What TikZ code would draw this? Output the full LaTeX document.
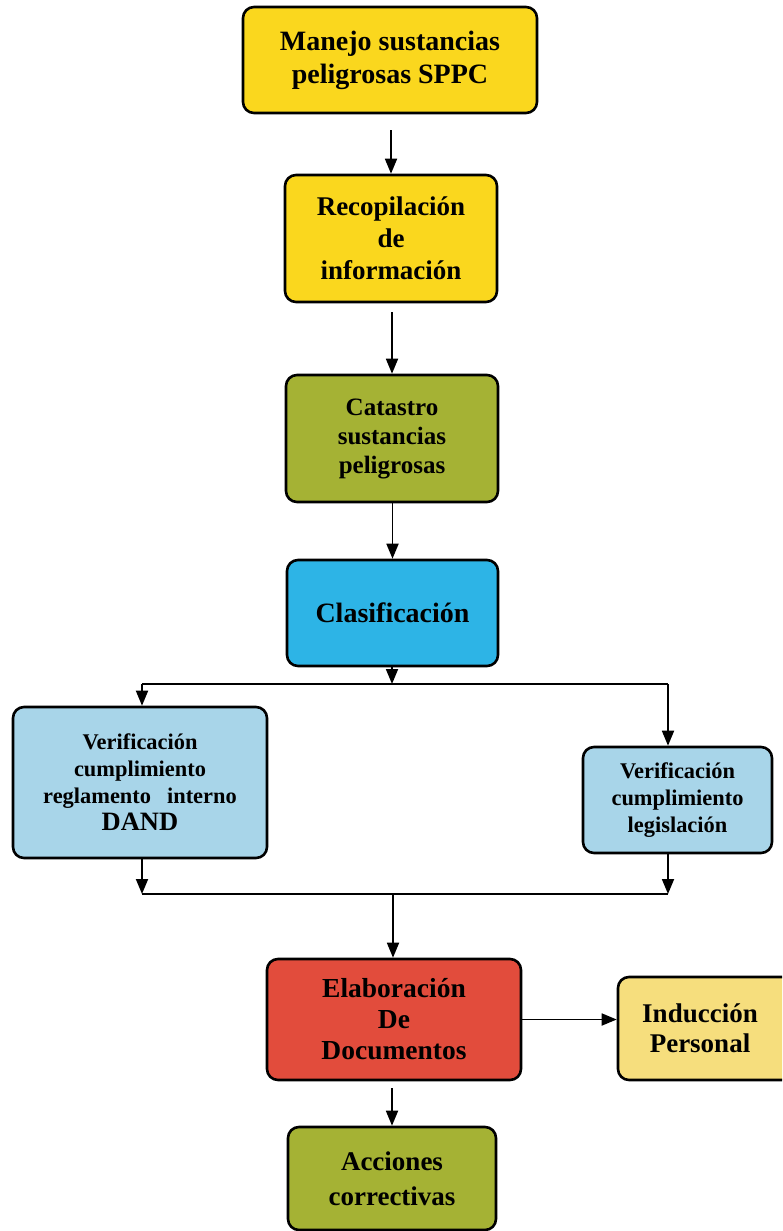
\documentclass[tikz,border=0pt]{standalone}
\usepackage{fontspec}
\setmainfont{Liberation Serif}
\usetikzlibrary{arrows.meta}
\definecolor{yelA}{RGB}{250,215,30}
\definecolor{oliveB}{RGB}{165,178,52}
\definecolor{cyanC}{RGB}{45,180,230}
\definecolor{lblue}{RGB}{168,213,233}
\definecolor{redD}{RGB}{226,76,60}
\definecolor{lyel}{RGB}{246,222,125}
\newcommand{\fs}[2]{\fontsize{#1}{#2}\selectfont}
\tikzset{
  box/.style={draw=black, line width=2.6pt, rounded corners=11pt, rectangle,
    align=center, inner sep=0pt},
  txt/.style 2 args={font=\bfseries\fs{#1}{#2}},
  arr/.style={line width=1.8pt, -{Triangle[length=15pt,width=12pt]}},
  ln/.style={line width=1.8pt},
}
\begin{document}
\begin{tikzpicture}[x=1pt,y=1pt]
\clip (0,0) rectangle (782,-1231);
\fill[white] (0,0) rectangle (782,-1231);

\node[box, txt={28}{33}, fill=yelA, minimum width=294pt, minimum height=106pt] (b1) at (390,-60)
  {Manejo sustancias\\peligrosas SPPC};
\node[box, txt={27}{32}, fill=yelA, minimum width=212pt, minimum height=127pt] (b2) at (391,-238.5)
  {Recopilación\\de\\información};
\node[box, txt={25}{29}, fill=oliveB, minimum width=212pt, minimum height=127pt] (b3) at (392,-438.5)
  {Catastro\\sustancias\\peligrosas};
\node[box, txt={28}{32}, fill=cyanC, minimum width=211pt, minimum height=106pt] (b4) at (392.5,-613)
  {Clasificación};
\node[box, txt={22.4}{27}, fill=lblue, minimum width=254pt, minimum height=151pt] (lft) at (140,-782.5)
  {Verificación\\cumplimiento\\reglamento\hspace{16pt}interno\\{\fs{26.5}{29}DAND}};
\node[box, txt={22.4}{27}, fill=lblue, minimum width=189pt, minimum height=106pt] (rgt) at (677.5,-800)
  {Verificación\\cumplimiento\\legislación};
\node[box, txt={27.5}{31}, fill=redD, minimum width=254pt, minimum height=121pt] (red) at (394,-1019.5)
  {Elaboración\\De\\Documentos};
\node[box, fill=lyel, minimum width=176pt, minimum height=103pt] (ind) at (706,-1028.5) {};
\node[txt={27}{30}, align=center, inner sep=0pt] (indt) at (700,-1028.5) {Inducción\\Personal};
\node[box, txt={27}{35}, fill=oliveB, minimum width=208pt, minimum height=103pt] (acc) at (392,-1178.5)
  {Acciones\\correctivas};

\coordinate (jt) at (392,-684);
\coordinate (jl) at (142,-684);
\coordinate (jr) at (668,-684);
\coordinate (bl) at (142,-894);
\coordinate (br) at (668,-894);
\coordinate (bm) at (393,-894);

\draw[arr, shorten <=16pt] (b1.south -| b2.north) -- (b2.north);
\draw[arr, shorten <=9pt] (b2.south -| b3.north) -- (b3.north);
\draw[arr] (b3.south -| b4.north) -- (b4.north);
\draw[arr] (b4.south -| jt) -- (jt);
\draw[ln] (jl) -- (jr);
\draw[arr] (jl) -- (jl |- lft.north);
\draw[arr] (jr) -- (jr |- rgt.north);
\draw[arr] (bl |- lft.south) -- (bl);
\draw[arr] (br |- rgt.south) -- (br);
\draw[ln] (bl) -- (br);
\draw[arr] (bm) -- (bm |- red.north);
\draw[arr] (red.east) -- (ind.west |- red.east);
\draw[arr, shorten <=7pt] (red.south -| acc.north) -- (acc.north);
\end{tikzpicture}
\end{document}
